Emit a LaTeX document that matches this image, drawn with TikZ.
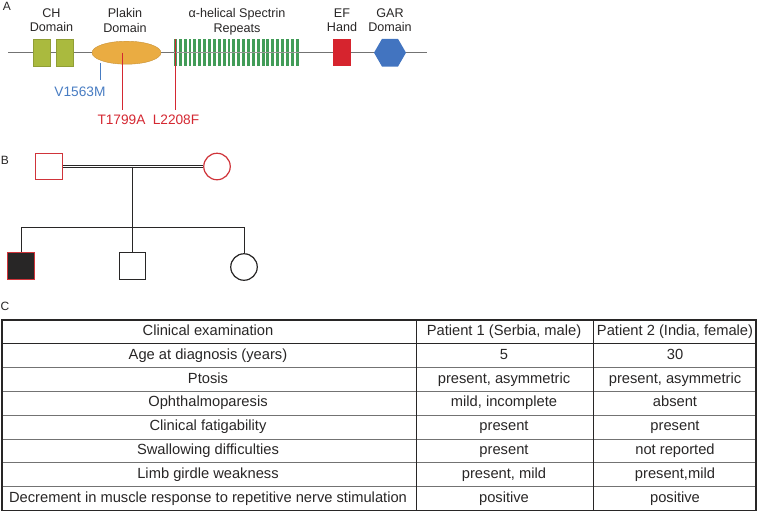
\documentclass[tikz,border=0pt]{standalone}
\usepackage{fontspec}
\setmainfont{Liberation Sans}
\usetikzlibrary{shapes.geometric}

\definecolor{chgreen}{RGB}{170,186,62}
\definecolor{plakinorange}{RGB}{234,172,66}
\definecolor{repgreen}{RGB}{66,156,88}
\definecolor{efred}{RGB}{214,36,46}
\definecolor{garblue}{RGB}{66,116,192}
\definecolor{mutblue}{RGB}{72,124,194}
\definecolor{mutred}{RGB}{212,40,50}
\definecolor{pedred}{RGB}{208,52,58}
\definecolor{inkgray}{RGB}{40,38,38}

\begin{document}
\begin{tikzpicture}[x=1pt, y=-1pt,
    panel/.style={font=\fontsize{12}{14}\selectfont, text=inkgray, inner sep=0pt},
    domainlabel/.style={align=center, anchor=north, inner sep=0pt, font=\fontsize{12.6}{14.4}\selectfont, text=inkgray},
    chbox/.style={rectangle, draw=chgreen!85!black, fill=chgreen, minimum width=17pt, minimum height=27pt, inner sep=0pt},
    spectrinbar/.style={rectangle, fill=repgreen, minimum width=2.9pt, minimum height=27pt, inner sep=0pt},
    mutlabel/.style={font=\fontsize{13.7}{15}\selectfont, anchor=base, inner sep=0pt},
    male/.style={rectangle, draw, line width=1.2pt, minimum size=26.5pt, inner sep=0pt},
    female/.style={circle, draw, line width=1.2pt, minimum size=26.5pt, inner sep=0pt},
    pedline/.style={draw=inkgray, line width=0.9pt},
    cell/.style={font=\fontsize{14.7}{17}\selectfont, text=inkgray, anchor=base, inner sep=0pt}
  ]
    \useasboundingbox (0,0) rectangle (763,512);

    % Panel A: protein
    \node[panel] (labA) at (7,6) {A};
    \coordinate (nterm) at (8,52.7);
    \coordinate (cterm) at (427,52.7);
    \draw[draw=black!55, line width=0.9pt] (nterm) -- (cterm);

    \node[chbox] (ch1) at (41.5,52.7) {};
    \node[chbox] (ch2) at (64.5,52.7) {};
    \node[ellipse, fill=plakinorange, draw=plakinorange!85!black, minimum width=69pt, minimum height=23pt, inner sep=0pt] (plakin) at (126.5,52.7) {};
    \foreach \i in {0,...,25}
      \node[spectrinbar] (rep\i) at ({175.4+\i*4.87},52.7) {};
    \draw[draw=black!40, line width=0.7pt] (rep0.west) -- (rep25.east);
    \node[rectangle, fill=efred, minimum width=18pt, minimum height=27pt, inner sep=0pt] (ef) at (342,52.7) {};
    \node[regular polygon, regular polygon sides=6, fill=garblue, minimum size=32pt, inner sep=0pt] (gar) at (390,52.7) {};

    \node[domainlabel] (chlab) at (51.5,8.3) {CH\\Domain};
    \node[domainlabel] (plakinlab) at (125,8.3) {Plakin\\Domain};
    \node[domainlabel] (replab) at (237,8.3) {α-helical Spectrin\\Repeats};
    \node[domainlabel] (eflab) at (342,8.3) {EF\\Hand};
    \node[domainlabel] (garlab) at (390,8.3) {GAR\\Domain};

    % Mutations
    \node[mutlabel, text=mutblue] (v1563m) at (80,96) {V1563M};
    \node[mutlabel, text=mutred] (t1799a) at (121.5,124) {T1799A};
    \node[mutlabel, text=mutred] (l2208f) at (176,124) {L2208F};
    \coordinate (vsite) at (100,62.5);
    \coordinate (vend) at (100,80);
    \coordinate (tsite) at (122,52.7);
    \coordinate (tend) at (122,110);
    \coordinate (lend) at (175.4,110);
    \draw[mutblue, line width=0.8pt] (vsite) -- (vend);
    \draw[mutred, line width=0.8pt] (tsite) -- (tend);
    \draw[mutred, line width=0.8pt] (rep0.north) -- (lend);

    % Panel B: pedigree
    \node[panel] (labB) at (5,160) {B};
    \node[male, draw=pedred] (father) at (49,166.5) {};
    \node[female, draw=pedred] (mother) at (217,166.5) {};
    \node[male, draw=pedred, fill=inkgray] (child1) at (21,266) {};
    \node[male, draw=inkgray] (child2) at (132.5,266) {};
    \node[female, draw=inkgray] (child3) at (244,267) {};

    \draw[pedline, double, double distance=1.6pt, line width=0.8pt] (father.east) -- (mother.west);
    \coordinate (union) at (132.5,166.5);
    \coordinate (sib) at (132.5,227);
    \draw[pedline] (union) -- (sib);
    \draw[pedline] (child1 |- sib) -- (child3 |- sib);
    \foreach \c in {child1,child2,child3}
      \draw[pedline] (\c |- sib) -- (\c.north);

    % Panel C: table
    \node[panel] (labC) at (5,306) {C};
    \foreach \r in {2,...,7}
      \draw[black!55, line width=0.8pt] (2,{320+\r*23.8}) -- (756,{320+\r*23.8});
    \draw[inkgray, line width=1pt] (2,343.8) -- (756,343.8);
    \draw[inkgray, line width=1pt] (416.5,320) -- (416.5,510.5);
    \draw[inkgray, line width=1pt] (593,320) -- (593,510.5);
    \draw[inkgray, line width=1.4pt] (2,320) rectangle (756,510.5);

    \foreach \r/\a/\b/\c in {
        0/Clinical examination/{Patient 1 (Serbia, male)}/{Patient 2 (India, female)},
        1/Age at diagnosis (years)/5/30,
        2/Ptosis/{present, asymmetric}/{present, asymmetric},
        3/Ophthalmoparesis/{mild, incomplete}/absent,
        4/Clinical fatigability/present/present,
        5/Swallowing difficulties/present/not reported,
        6/Limb girdle weakness/{present, mild}/{present,mild},
        7/Decrement in muscle response to repetitive nerve stimulation/positive/positive}
    {
      \node[cell] (row\r a) at (208,{335.5+\r*23.8}) {\a};
      \node[cell] (row\r b) at (504,{335.5+\r*23.8}) {\b};
      \node[cell] (row\r c) at (675,{335.5+\r*23.8}) {\c};
    }

  \end{tikzpicture}
\end{document}
